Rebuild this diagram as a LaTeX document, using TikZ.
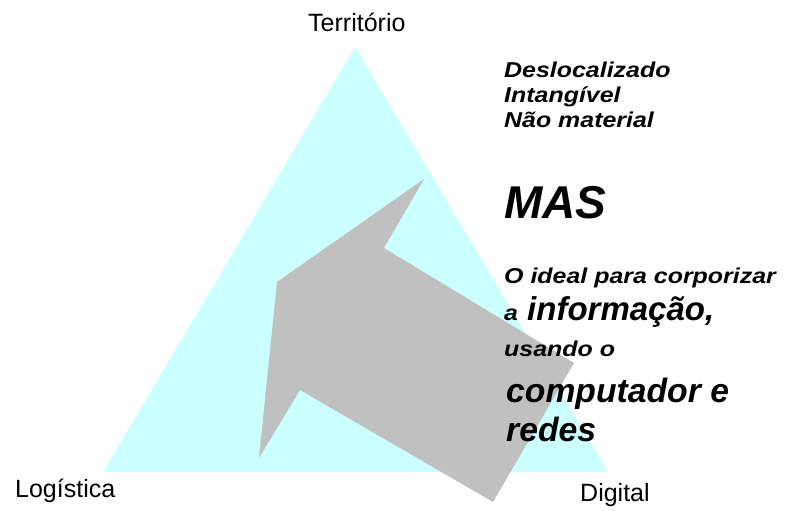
\documentclass[tikz,border=0pt]{standalone}
\usepackage{fontspec}
\usepackage{graphicx}
\setmainfont{Liberation Sans}
\definecolor{tricol}{HTML}{CCFFFF}
\definecolor{arrcol}{HTML}{C0C0C0}
\tikzset{
 lbl/.style={font=\fontsize{25}{30}\selectfont, anchor=base west, inner sep=0pt},
 smalltxt/.style={font=\fontsize{21.5}{25}\selectfont\bfseries\itshape, anchor=base west, inner sep=0pt},
 bigtxt/.style={font=\fontsize{33}{38}\selectfont\bfseries\itshape, anchor=base west, inner sep=0pt},
 bigtxtb/.style={font=\fontsize{33.7}{38}\selectfont\bfseries\itshape, anchor=base west, inner sep=0pt},
 hugetxt/.style={font=\fontsize{46}{52}\selectfont\bfseries\itshape, anchor=base west, inner sep=0pt},
}
\newcommand{\widetxt}[1]{\scalebox{1.16}[1]{#1}}
\begin{document}
\begin{tikzpicture}[x=1pt,y=-1pt]
\useasboundingbox (0,0) rectangle (792,511);
% triangle
\fill[tricol] (355,47) -- (608,472) -- (103,472) -- cycle;
% arrow
\fill[arrcol] (424,179) -- (384,248) -- (574,363) -- (493,502) -- (300,390) -- (259,458) -- (277,282) -- cycle;
% corner labels
\node[lbl] (terr) at (308,31.5) {Território};
\node[lbl] (logi) at (15,497) {Logística};
\node[lbl] (digi) at (580,501) {Digital};
% right text
\node[smalltxt] (t1) at (504,77.3) {\widetxt{Deslocalizado}};
\node[smalltxt] (t2) at (504,102.5) {\widetxt{Intangível}};
\node[smalltxt] (t3) at (504,127.7) {\widetxt{Não material}};
\node[hugetxt] (mas) at (504,218.3) {MAS};
\node[smalltxt] (t4) at (504,283.3) {\widetxt{O ideal para corporizar}};
\node[smalltxt] (t5) at (504,320.7) {\widetxt{a}};
\node[bigtxt] (t6) at (527,320.7) {informação,};
\node[smalltxt] (t7) at (504,356.7) {\widetxt{usando o}};
\node[bigtxtb] (t8) at (506,402.3) {computador e};
\node[bigtxtb] (t9) at (506,441.7) {redes};
\end{tikzpicture}
\end{document}
